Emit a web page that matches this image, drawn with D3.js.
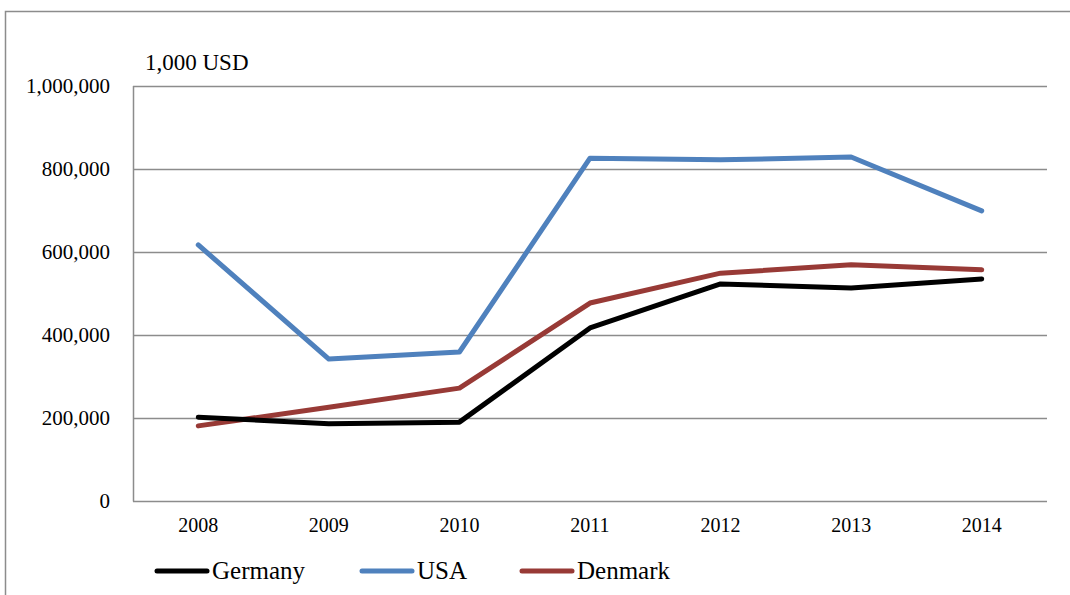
<!DOCTYPE html>
<html>
<head>
<meta charset="utf-8">
<script src="https://cdn.jsdelivr.net/npm/d3@7"></script>
<style>
  body { margin: 0; background: #fff; }
  svg { display: block; font-family: "Liberation Serif", "DejaVu Serif", serif; }
</style>
</head>
<body>
<div id="container"></div>
<script>
// ******* Data *******
var years = ["2008", "2009", "2010", "2011", "2012", "2013", "2014"];
var germany = [202000, 186000, 190000, 417000, 523000, 513000, 535000];
var usa = [617000, 342000, 359000, 826000, 822000, 829000, 699000];
var denmark = [181000, 226000, 272000, 477000, 549000, 569000, 557000];
var yTicks = [0, 200000, 400000, 600000, 800000, 1000000];
var seriesNames = ["Germany", "USA", "Denmark"];
var seriesColors = ["#000000", "#4F81BD", "#983A36"];

var width = 1070, height = 595;
var plotLeft = 133, plotRight = 1047, plotTop = 86, plotBottom = 501;

var svg = d3.select("#container").append("svg")
  .attr("width", width)
  .attr("height", height);

// outer frame (cut off at right/bottom like the picture)
svg.append("rect")
  .attr("x", 5.5).attr("y", 11.5)
  .attr("width", 1100).attr("height", 620)
  .attr("fill", "none")
  .attr("stroke", "#8c8c8c")
  .attr("stroke-width", 1.5);

var x = d3.scaleBand().domain(years).range([plotLeft, plotRight]);
var y = d3.scaleLinear().domain([0, 1000000]).range([plotBottom, plotTop]);

// gridlines
svg.append("g")
  .selectAll("line")
  .data(yTicks)
  .enter().append("line")
  .attr("x1", plotLeft).attr("x2", plotRight)
  .attr("y1", function(d) { return y(d) + 0.5; })
  .attr("y2", function(d) { return y(d) + 0.5; })
  .attr("stroke", "#8c8c8c")
  .attr("stroke-width", 1.5);

// y axis line
svg.append("line")
  .attr("x1", plotLeft + 0.5).attr("x2", plotLeft + 0.5)
  .attr("y1", plotTop).attr("y2", plotBottom + 0.5)
  .attr("stroke", "#8c8c8c")
  .attr("stroke-width", 1.5);

// y tick labels
var fmt = d3.format(",");
svg.append("g")
  .selectAll("text")
  .data(yTicks)
  .enter().append("text")
  .attr("x", 110)
  .attr("y", function(d) { return y(d) + 7; })
  .attr("text-anchor", "end")
  .style("font-size", "21px")
  .attr("fill", "#000")
  .text(function(d) { return fmt(d); });

// x tick labels
svg.append("g")
  .selectAll("text")
  .data(years)
  .enter().append("text")
  .attr("x", function(d) { return x(d) + x.bandwidth() / 2; })
  .attr("y", 532)
  .attr("text-anchor", "middle")
  .style("font-size", "20px")
  .attr("fill", "#000")
  .text(function(d) { return d; });

// unit label
svg.append("text")
  .attr("x", 145).attr("y", 70)
  .style("font-size", "23px")
  .attr("fill", "#000")
  .text("1,000 USD");

// lines
var line = d3.line()
  .x(function(d, i) { return x(years[i]) + x.bandwidth() / 2; })
  .y(function(d) { return y(d); });

var allSeries = [germany, usa, denmark];
// draw order: USA, Denmark, Germany on top
[1, 2, 0].forEach(function(k) {
  svg.append("path")
    .datum(allSeries[k])
    .attr("d", line)
    .attr("fill", "none")
    .attr("stroke", seriesColors[k])
    .attr("stroke-width", 5)
    .attr("stroke-linecap", "round")
    .attr("stroke-linejoin", "round");
});

// legend
var legendX = [157, 362, 522];
var legend = svg.append("g");
seriesNames.forEach(function(name, i) {
  legend.append("line")
    .attr("x1", legendX[i]).attr("x2", legendX[i] + 50)
    .attr("y1", 571).attr("y2", 571)
    .attr("stroke", seriesColors[i])
    .attr("stroke-width", 5)
    .attr("stroke-linecap", "round");
  legend.append("text")
    .attr("x", legendX[i] + 55)
    .attr("y", 579)
    .style("font-size", "25px")
    .attr("fill", "#000")
    .text(name);
});
</script>
</body>
</html>
